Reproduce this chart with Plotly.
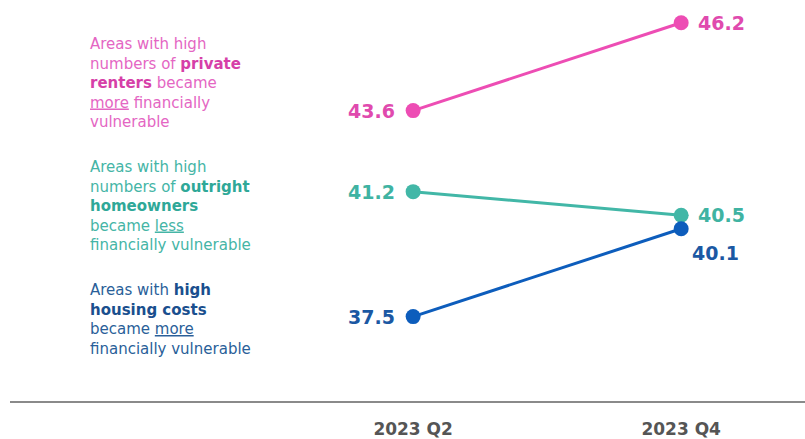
import plotly.graph_objects as go

periods = ["2023 Q2", "2023 Q4"]
private_renters = [43.6, 46.2]
outright_owners = [41.2, 40.5]
housing_costs = [37.5, 40.1]

series = [
    ("private", private_renters, "#ED4DB4", "#E04AAE"),
    ("owners", outright_owners, "#42B7A7", "#3FB3A2"),
    ("costs", housing_costs, "#0D5DBC", "#1B58A3"),
]

fig = go.Figure()
for name, vals, lc, tc in series:
    fig.add_trace(go.Scatter(
        x=periods, y=vals, mode="lines+markers",
        line=dict(color=lc, width=3),
        marker=dict(color=lc, size=15),
        hoverinfo="skip", showlegend=False,
    ))

label_font = dict(family="DejaVu Sans", size=19)
# left-side value labels
for name, vals, lc, tc in series:
    fig.add_annotation(x=periods[0], y=vals[0], text=f"<b>{vals[0]}</b>",
                       showarrow=False, xanchor="right", xshift=-16,
                       font=dict(color=tc, **label_font))
# right-side value labels
for name, vals, lc, tc in series:
    if name == "costs":
        fig.add_annotation(x=periods[1], y=vals[1], text=f"<b>{vals[1]}</b>",
                           showarrow=False, xanchor="left", xshift=9,
                           yshift=-24, font=dict(color=tc, **label_font))
    else:
        fig.add_annotation(x=periods[1], y=vals[1], text=f"<b>{vals[1]}</b>",
                           showarrow=False, xanchor="left", xshift=15,
                           font=dict(color=tc, **label_font))

tfont = "DejaVu Sans, sans-serif"
PW, PH, L = 795.0, 405.0, 10.0
def px(xp):
    return (xp - L) / PW
def py(yp):
    return 1 - yp / PH

fig.add_annotation(
    xref="paper", yref="paper", x=px(88), y=py(33), xanchor="left", yanchor="top",
    align="left", showarrow=False,
    text=("Areas with high<br>numbers of <b><span style='color:#D63FA8'>private</span></b><br>"
          "<b><span style='color:#D63FA8'>renters</span></b> became<br><u>more</u> financially<br>vulnerable"),
    font=dict(family=tfont, size=15, color="#E466C3"),
)
fig.add_annotation(
    xref="paper", yref="paper", x=px(88), y=py(158), xanchor="left", yanchor="top",
    align="left", showarrow=False,
    text=("Areas with high<br>numbers of <b><span style='color:#2FA898'>outright</span></b><br>"
          "<b><span style='color:#2FA898'>homeowners</span></b><br>became <u>less</u><br>financially vulnerable"),
    font=dict(family=tfont, size=15, color="#45B5A6"),
)
fig.add_annotation(
    xref="paper", yref="paper", x=px(88), y=py(282), xanchor="left", yanchor="top",
    align="left", showarrow=False,
    text=("Areas with <b><span style='color:#1A4F8E'>high</span></b><br>"
          "<b><span style='color:#1A4F8E'>housing costs</span></b><br>became <u>more</u><br>financially vulnerable"),
    font=dict(family=tfont, size=15, color="#2A5F99"),
)

fig.update_layout(
    width=805, height=439,
    margin=dict(l=10, r=0, t=0, b=34),
    paper_bgcolor="white", plot_bgcolor="white",
    xaxis=dict(type="category", range=[-1.504, 1.462], showgrid=False, zeroline=False,
               showline=True, linecolor="#8A8A8A", linewidth=2,
               ticks="outside", ticklen=12, tickcolor="rgba(0,0,0,0)",
               tickfont=dict(family="DejaVu Sans", size=17, color="#555555"),
               tickprefix="<b>", ticksuffix="</b>", fixedrange=True),
    yaxis=dict(range=[35.0, 46.875], visible=False, fixedrange=True),
)

fig.write_html("out.html")
